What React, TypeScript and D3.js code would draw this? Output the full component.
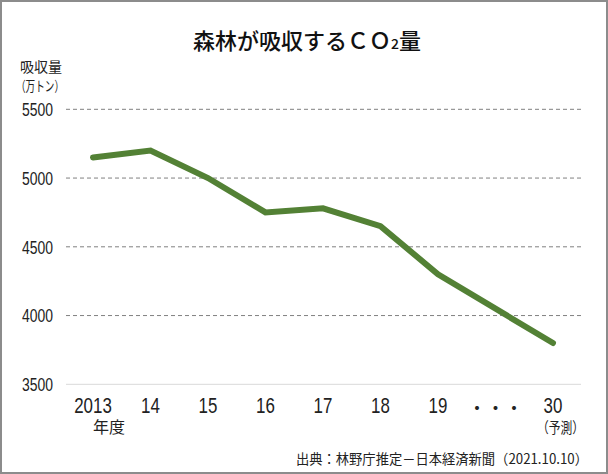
import React from "react";
import * as d3 from "d3";

const categories = ["2013", "14", "15", "16", "17", "18", "19", "・・・", "30"];
const values: (number | null)[] = [5150, 5200, 5000, 4750, 4780, 4650, 4300, null, 3800];
const yTicks = [3500, 4000, 4500, 5000, 5500];
const title = "森林が吸収するＣＯ";
const source = "出典：林野庁推定－日本経済新聞（2021.10.10）";

const W = 608;
const H = 474;
const CJK = "'Noto Sans CJK JP', 'Noto Sans', sans-serif";
const NUM = "'Liberation Sans', 'Arial', sans-serif";

export default function App() {
  const x = d3.scalePoint<string>().domain(categories).range([93, 553]);
  const y = d3.scaleLinear().domain([3500, 5500]).range([384.3, 109.3]);
  const pts = categories
    .map((c, i) => ({ c, v: values[i] }))
    .filter((d) => d.v != null) as { c: string; v: number }[];
  const line = d3
    .line<{ c: string; v: number }>()
    .x((d) => x(d.c)!)
    .y((d) => y(d.v));

  return (
    <svg
      width={W}
      height={H}
      style={{ position: "absolute", left: 0, top: 0, display: "block", background: "#fff" }}
    >
      <rect x={1} y={1} width={W - 2} height={H - 2} fill="#fff" stroke="#8c8c8c" strokeWidth={2} />
      <text x={307} y={49} textAnchor="middle" fontFamily={CJK} fontSize={22} fontWeight={500} fill="#111">
        {title}
        <tspan fontSize={14}>2</tspan>
        <tspan fontSize={22}>量</tspan>
      </text>
      <text x={20} y={72} fontFamily={CJK} fontSize={14} fill="#222" textLength={42} lengthAdjust="spacingAndGlyphs">吸収量</text>
      <text x={16} y={91} fontFamily={CJK} fontSize={14} fill="#222" textLength={48} lengthAdjust="spacingAndGlyphs">（万トン）</text>
      {yTicks.map((t) => (
        <g key={t}>
          <line
            x1={66}
            x2={581}
            y1={y(t)}
            y2={y(t)}
            stroke={t === 3500 ? "#d9d9d9" : "#808080"}
            strokeWidth={1}
            strokeDasharray={t === 3500 ? undefined : "4,3"}
          />
          <text x={53} y={y(t) + 6.7} textAnchor="end" fontFamily={NUM} fontSize={18.5} fill="#222" textLength={31} lengthAdjust="spacingAndGlyphs">
            {t}
          </text>
        </g>
      ))}
      <path
        d={line(pts) || ""}
        fill="none"
        stroke="#538135"
        strokeWidth={6}
        strokeLinecap="round"
        strokeLinejoin="miter"
      />
      {categories.map((c) =>
        c === "・・・" ? (
          <text key={c} x={x(c)!} y={415} textAnchor="middle" fontFamily={CJK} fontSize={18.5} fill="#222">
            {c}
          </text>
        ) : (
          <text key={c} x={x(c)!} y={413} textAnchor="middle" fontFamily={NUM} fontSize={22.5} fill="#222" textLength={c.length * 9.4} lengthAdjust="spacingAndGlyphs">
            {c}
          </text>
        )
      )}
      <text x={109} y={432.5} textAnchor="middle" fontFamily={CJK} fontSize={16} fill="#222">年度</text>
      <text x={560.5} y={432.5} textAnchor="middle" fontFamily={CJK} fontSize={15} fill="#222" textLength={47} lengthAdjust="spacingAndGlyphs">（予測）</text>
      <text x={588} y={464} textAnchor="end" fontFamily={CJK} fontSize={14} fill="#222" textLength={292} lengthAdjust="spacingAndGlyphs">
        {source}
      </text>
    </svg>
  );
}
